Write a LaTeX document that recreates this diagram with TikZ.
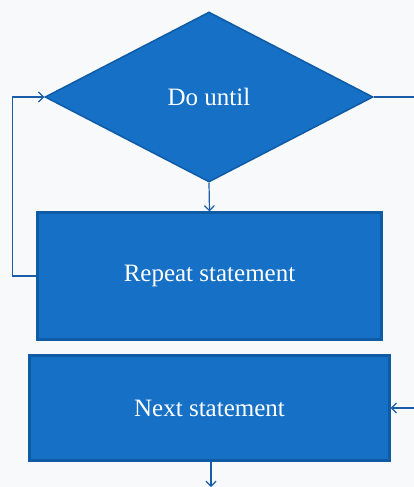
\documentclass[tikz,border=0pt]{standalone}
\usepackage{fontspec}
\setmainfont{Liberation Serif}
\usetikzlibrary{arrows.meta,shapes.geometric}
\definecolor{boxblue}{HTML}{1570C6}
\definecolor{edgeblue}{HTML}{0F5BA6}
\definecolor{lineblue}{HTML}{1B5CA8}
\definecolor{paper}{HTML}{F7F9FB}
\tikzset{stmt/.style={draw=edgeblue, fill=boxblue, line width=2.2pt, rectangle, text=white, font=\fontsize{25}{29}\selectfont},
  test/.style={draw=edgeblue, fill=boxblue, line width=1.5pt, diamond, inner sep=0pt, text=white, font=\fontsize{25}{29}\selectfont},
  flow/.style={draw=lineblue, line width=1.2pt, -{Straight Barb[length=5pt,width=10pt]}}}

\begin{document}
\begin{tikzpicture}[x=1pt,y=-1pt]
		\fill[paper] (0,0) rectangle (414,487);
		\useasboundingbox (0,0) rectangle (414,487);
		\node[test, minimum width=328pt, minimum height=170pt] (doo) at (209,97) {Do until};
		\node[stmt, minimum width=344pt, minimum height=127pt] (rep) at (209.5,276) {Repeat statement};
		\node[stmt, minimum width=360pt, minimum height=105pt] (nxt) at (209.5,408) {Next statement};
		\coordinate (out) at (414,97);
		\coordinate (back) at (414,408);
		\coordinate (down) at (211,487);
		
		\draw[flow] (doo.south) -- (rep.north);
		\draw[flow] (rep.west) -- ++(-24,0) |- (doo.west);
		\draw[flow, -] (doo.east) -- (out);
		\draw[flow] (back) -- (nxt.east);
		\draw[flow] (nxt.south -| down) -- (down);
		\end{tikzpicture}
\end{document}
